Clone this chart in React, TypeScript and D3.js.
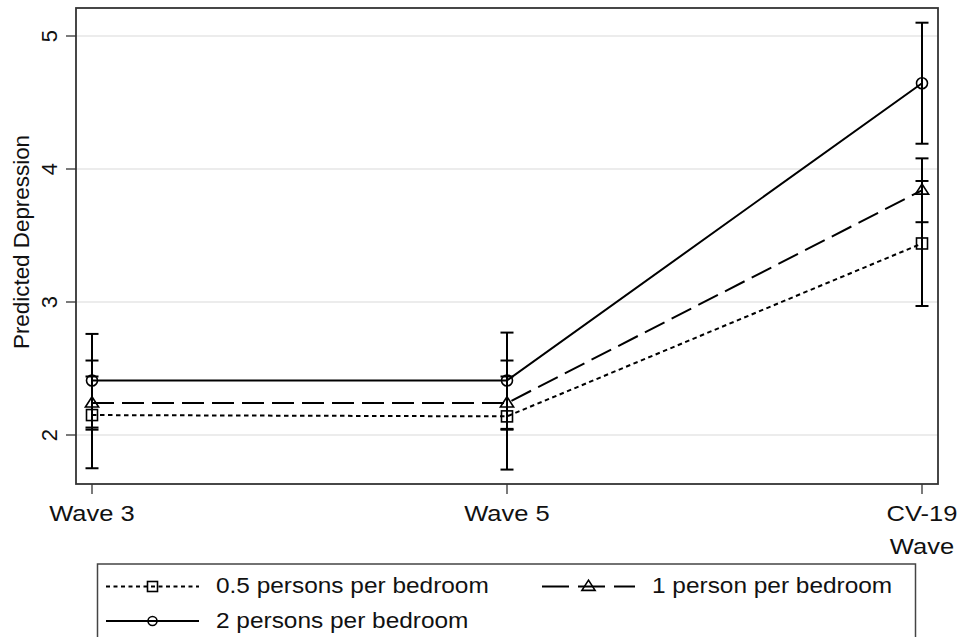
import React from "react";
import * as d3 from "d3";

const waves = ["Wave 3", "Wave 5", "CV-19\nWave"];
const yTicks = [2, 3, 4, 5];

const seriesNames = ["0.5 persons per bedroom", "1 person per bedroom", "2 persons per bedroom"];
const est05 = [2.15, 2.14, 3.44];
const lo05 = [1.75, 1.74, 2.97];
const hi05 = [2.56, 2.56, 3.91];
const est1 = [2.24, 2.24, 3.84];
const lo1 = [2.04, 2.04, 3.6];
const hi1 = [2.44, 2.44, 4.08];
const est2 = [2.41, 2.41, 4.645];
const lo2 = [2.056, 2.046, 4.19];
const hi2 = [2.76, 2.77, 5.1];

const W = 959;
const H = 637;
const frame = { left: 76, right: 938, top: 8, bottom: 484 };
const FONT = "'Liberation Sans', Arial, Helvetica, sans-serif";

type Series = { name: string; est: number[]; lo: number[]; hi: number[]; dash: string | null; marker: string };
const series: Series[] = [
  { name: seriesNames[0], est: est05, lo: lo05, hi: hi05, dash: "4.5,3.5", marker: "square" },
  { name: seriesNames[1], est: est1, lo: lo1, hi: hi1, dash: "22,8", marker: "triangle" },
  { name: seriesNames[2], est: est2, lo: lo2, hi: hi2, dash: null, marker: "circle" },
];

function Marker({ type, x, y, s }: { type: string; x: number; y: number; s: number }) {
  const common = { fill: "none", stroke: "#000", strokeWidth: 1.6 };
  if (type === "circle") return <circle cx={x} cy={y} r={s * 0.5} {...common} />;
  if (type === "square") return <rect x={x - s / 2} y={y - s / 2} width={s} height={s} {...common} />;
  const h = s * 0.85;
  return (
    <path
      d={`M${x},${y - h * 0.62} L${x + s * 0.55},${y + h * 0.38} L${x - s * 0.55},${y + h * 0.38} Z`}
      {...common}
    />
  );
}

export default function App() {
  const x = d3.scaleLinear().domain([0, waves.length - 1]).range([92, 922]);
  const y = d3.scaleLinear().domain([2, 5]).range([435, 36]);
  const line = d3
    .line<number>()
    .x((_, i) => x(i))
    .y((d) => y(d));
  const markerSize: Record<string, number> = { circle: 11, square: 11, triangle: 12 };
  const capHalf = 6.5;
  const tickStretch = 1.16;
  const legendStretch = 1.11;

  return (
    <svg
      width={W}
      height={H}
      style={{ position: "absolute", left: 0, top: 0, background: "#fff" }}
      fontFamily={FONT}
    >
      <rect x={0} y={0} width={W} height={H} fill="#fff" />
      {/* gridlines */}
      {yTicks.map((t) => (
        <line key={"g" + t} x1={frame.left} x2={frame.right} y1={y(t)} y2={y(t)} stroke="#e6e6e6" strokeWidth={1.5} />
      ))}
      {/* y ticks */}
      {yTicks.map((t) => (
        <g key={"yt" + t}>
          <line x1={frame.left - 10} x2={frame.left} y1={y(t)} y2={y(t)} stroke="#222" strokeWidth={1.2} />
          <text transform={`translate(57,${y(t)}) rotate(-90)`} textAnchor="middle" fontSize={22} fill="#111">
            {t}
          </text>
        </g>
      ))}
      <text transform="translate(28.5,242) rotate(-90)" textAnchor="middle" fontSize={22.4} fill="#111">
        Predicted Depression
      </text>
      {/* x ticks */}
      {waves.map((w, i) => (
        <g key={"xt" + i}>
          <line x1={x(i)} x2={x(i)} y1={frame.bottom} y2={frame.bottom + 10} stroke="#222" strokeWidth={1.2} />
          {w.split("\n").map((part, j) => (
            <text
              key={j}
              transform={`translate(${x(i)},${521 + j * 33}) scale(${tickStretch},1)`}
              textAnchor="middle"
              fontSize={22}
              fill="#111"
            >
              {part}
            </text>
          ))}
        </g>
      ))}
      {/* error bars */}
      {series.map((s) =>
        s.est.map((_, i) => (
          <g key={s.name + "eb" + i} stroke="#000" strokeWidth={2}>
            <line x1={x(i)} x2={x(i)} y1={y(s.lo[i])} y2={y(s.hi[i])} />
            <line x1={x(i) - capHalf} x2={x(i) + capHalf} y1={y(s.lo[i])} y2={y(s.lo[i])} />
            <line x1={x(i) - capHalf} x2={x(i) + capHalf} y1={y(s.hi[i])} y2={y(s.hi[i])} />
          </g>
        ))
      )}
      {/* lines */}
      {series.map((s) => (
        <path
          key={s.name + "line"}
          d={line(s.est) || ""}
          fill="none"
          stroke="#000"
          strokeWidth={2}
          strokeDasharray={s.dash || undefined}
        />
      ))}
      {/* markers */}
      {series.map((s) =>
        s.est.map((v, i) => (
          <Marker key={s.name + "m" + i} type={s.marker} x={x(i)} y={y(v)} s={markerSize[s.marker]} />
        ))
      )}
      {/* frame */}
      <rect
        x={frame.left}
        y={frame.top}
        width={frame.right - frame.left}
        height={frame.bottom - frame.top}
        fill="none"
        stroke="#333"
        strokeWidth={1.8}
      />
      {/* legend */}
      <rect x={97.5} y={564} width={818} height={100} fill="none" stroke="#444" strokeWidth={1.5} />
      {[
        { s: series[0], x0: 106, ly: 586.5, ty: 593 },
        { s: series[1], x0: 542, ly: 586.5, ty: 593 },
        { s: series[2], x0: 106, ly: 621, ty: 627.5 },
      ].map(({ s, x0, ly, ty }) => (
        <g key={"lg" + s.name}>
          <line
            x1={x0}
            x2={x0 + 93}
            y1={ly}
            y2={ly}
            stroke="#000"
            strokeWidth={2}
            strokeDasharray={s.marker === "square" ? "4,3.5" : s.marker === "triangle" ? "27,9" : undefined}
          />
          <Marker type={s.marker} x={x0 + 46.5} y={ly} s={s.marker === "circle" ? 9 : s.marker === "square" ? 10 : 12} />
          <text
            transform={`translate(${x0 + 110},${ty}) scale(${legendStretch},1)`}
            fontSize={22}
            fill="#111"
          >
            {s.name}
          </text>
        </g>
      ))}
    </svg>
  );
}
